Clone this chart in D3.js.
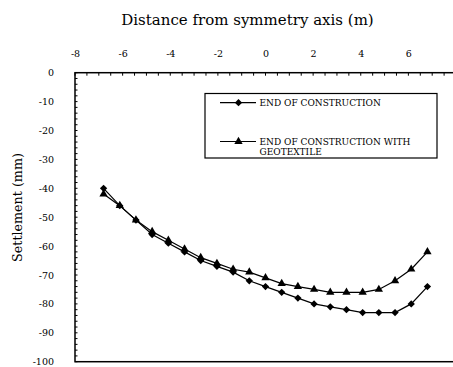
<!DOCTYPE html>
<html>
<head>
<meta charset="utf-8">
<script src="https://cdn.jsdelivr.net/npm/d3@7"></script>
<style>
  html, body { margin: 0; padding: 0; background: #fff; }
  svg { display: block; }
</style>
</head>
<body>
<svg id="chart" width="453" height="367"></svg>
<script>
// Distance from the symmetry axis (m)
const distance = [-6.8, -6.12, -5.44, -4.76, -4.08, -3.4, -2.72, -2.04, -1.36, -0.68, 0,
                  0.68, 1.36, 2.04, 2.72, 3.4, 4.08, 4.76, 5.44, 6.12, 6.8];
// Settlement (mm) at end of construction
const settlementEnd = [-40, -46, -51, -56, -59, -62, -65, -67, -69, -72, -74,
                       -76, -78, -80, -81, -82, -83, -83, -83, -80, -74];
// Settlement (mm) at end of construction with geotextile
const settlementGeo = [-42, -46, -51, -55, -58, -61, -64, -66, -68, -69, -71,
                       -73, -74, -75, -76, -76, -76, -75, -72, -68, -62];
const xTicks = [-8, -6, -4, -2, 0, 2, 4, 6];
const yTicks = [0, -10, -20, -30, -40, -50, -60, -70, -80, -90, -100];
const seriesNames = ["END OF CONSTRUCTION", "END OF CONSTRUCTION WITH|GEOTEXTILE"];

const FONT = "DejaVu Serif";
const svg = d3.select("#chart");
const plot = { left: 75, top: 72.7, right: 456, bottom: 361.7 };

const x = d3.scaleLinear().domain([-8, 8]).range([plot.left, plot.right]);
const y = d3.scaleLinear().domain([0, -100]).range([plot.top, plot.bottom]);

// Axis title on top
svg.append("text")
  .attr("x", 247.5).attr("y", 25)
  .attr("text-anchor", "middle")
  .style("font-family", FONT).attr("font-size", 15)
  .text("Distance from symmetry axis (m)");

// Y axis title
svg.append("text")
  .attr("transform", "translate(22,207.5) rotate(-90)")
  .attr("text-anchor", "middle")
  .style("font-family", FONT).attr("font-size", 12.7)
  .text("Settlement (mm)");

// Top axis: labels above the frame, ticks pointing inward
const topAxis = d3.axisTop(x).tickValues(xTicks).tickSize(0).tickPadding(16.2)
  .tickFormat(d => String(d));
const gTop = svg.append("g").attr("transform", `translate(0,${plot.top})`).call(topAxis);
gTop.attr("font-size", 9.5);
gTop.selectAll("text").style("font-family", FONT);
gTop.select(".domain").remove();

const xMinor = d3.range(-8, 8.01, 0.5);
svg.append("g").selectAll("line").data(xMinor).join("line")
  .attr("x1", d => x(d)).attr("x2", d => x(d))
  .attr("y1", plot.top).attr("y2", plot.top + 3)
  .attr("stroke", "#000").attr("stroke-width", 1);

// Left axis
const leftAxis = d3.axisLeft(y).tickValues(yTicks).tickSize(0).tickPadding(21)
  .tickFormat(d => String(d));
const gLeft = svg.append("g").attr("transform", `translate(${plot.left},0)`).call(leftAxis);
gLeft.attr("font-size", 9.5);
gLeft.selectAll("text").style("font-family", FONT);
gLeft.select(".domain").remove();

const yMinor = d3.range(0, -100.01, -2);
svg.append("g").selectAll("line").data(yMinor).join("line")
  .attr("x1", plot.left).attr("x2", plot.left + 2.5)
  .attr("y1", d => y(d)).attr("y2", d => y(d))
  .attr("stroke", "#000").attr("stroke-width", 1);

// Plot frame
svg.append("rect")
  .attr("x", plot.left).attr("y", plot.top)
  .attr("width", plot.right - plot.left).attr("height", plot.bottom - plot.top)
  .attr("fill", "none").attr("stroke", "#000").attr("stroke-width", 1.5);

const line = d3.line().x(d => x(d[0])).y(d => y(d[1]));
const diamond = d3.symbol().type(d3.symbolDiamond2).size(34);
const triangle = d3.symbol().type(d3.symbolTriangle).size(30);

function drawSeries(values, sym) {
  const pts = distance.map((d, i) => [d, values[i]]);
  svg.append("path").datum(pts)
    .attr("d", line).attr("fill", "none").attr("stroke", "#000").attr("stroke-width", 1.2);
  svg.append("g").selectAll("path").data(pts).join("path")
    .attr("transform", d => `translate(${x(d[0])},${y(d[1])})`)
    .attr("d", sym).attr("fill", "#000");
}
drawSeries(settlementEnd, diamond);
drawSeries(settlementGeo, triangle);

// Legend
const lg = svg.append("g");
lg.append("rect").attr("x", 205).attr("y", 93.5).attr("width", 232).attr("height", 64.5)
  .attr("fill", "#fff").attr("stroke", "#000").attr("stroke-width", 1.2);
const legendRows = [
  { y: 102.7, sym: diamond, lines: seriesNames[0].split("|") },
  { y: 141.5, sym: triangle, lines: seriesNames[1].split("|") }
];
legendRows.forEach(r => {
  lg.append("line").attr("x1", 220).attr("x2", 256).attr("y1", r.y).attr("y2", r.y)
    .attr("stroke", "#000").attr("stroke-width", 1.2);
  lg.append("path").attr("transform", `translate(238.5,${r.y})`).attr("d", r.sym).attr("fill", "#000");
  r.lines.forEach((t, k) => {
    lg.append("text").attr("x", 259.5).attr("y", r.y + 3.3 + k * 9.8)
      .style("font-family", FONT).attr("font-size", 9).text(t);
  });
});
</script>
</body>
</html>
